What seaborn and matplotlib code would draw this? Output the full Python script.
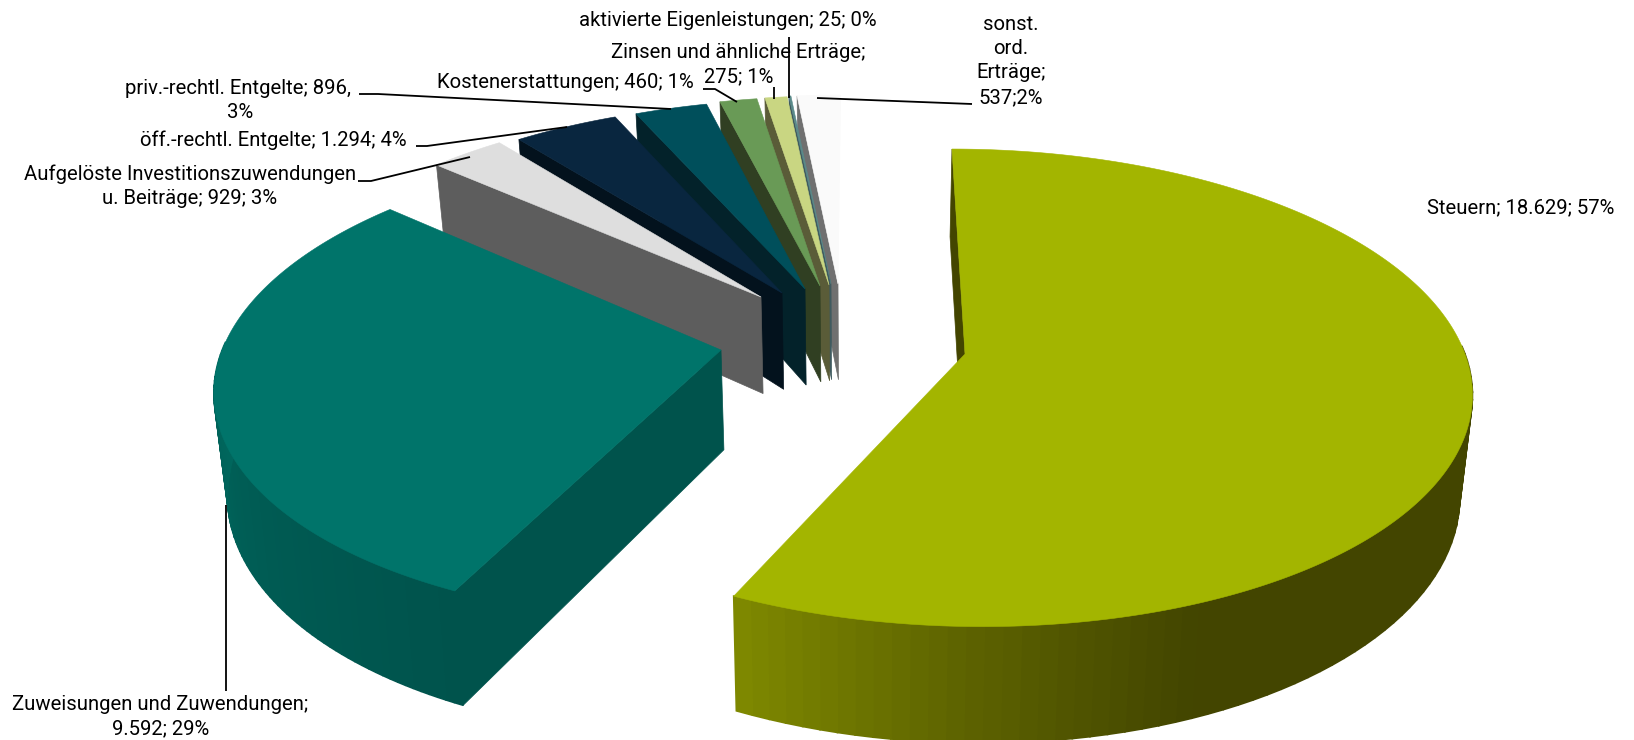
import numpy as np
import matplotlib
matplotlib.use("Agg")
import matplotlib.pyplot as plt
from matplotlib.patches import Polygon
import seaborn as sns

# Data
categories = ["Steuern", "Zuweisungen und Zuwendungen", "Aufgelöste Investitionszuwendungen u. Beiträge",
              "öff.-rechtl. Entgelte", "priv.-rechtl. Entgelte", "Kostenerstattungen",
              "Zinsen und ähnliche Erträge", "aktivierte Eigenleistungen", "sonst. ord. Erträge"]
values = [18629, 9592, 929, 1294, 896, 460, 275, 25, 537]

# Colours per slice
top_colors = ["#a3b500", "#00746a", "#dedede", "#09263f", "#004f5b", "#699a56", "#c9d682", "#5a8a8a", "#fafafa"]
side_colors = ["#434500", "#00534c", "#5d5d5d", "#03121d", "#03222a", "#303f22", "#5a5c38", "#3f5a5f", "#707070"]

# Where the tip of each exploded slice ends up (px)
tips = [(965, 354), (721, 350), (761, 297), (782, 293), (805, 289), (820, 286), (829, 285), (831, 284), (838, 284)]

# Perspective of the disc
cx, cy, A, B, k, D, t = 860, 354, 500, 234, 0.1416, 100, 0.021


def project(X, Y, z=0.0):
    p = 1 / (1 + k * Y)
    return cx + A * X * p * (1 - t * z), cy - B * Y * p + D * z * p


def tip_world(sx, sy):
    u = (cy - sy) / B
    Y = u / (1 - k * u)
    return (sx - cx) * (1 + k * Y) / A, Y


sns.set_theme(style="white")
plt.rcParams['font.family'] = ['Roboto', 'DejaVu Sans']

fig = plt.figure(figsize=(16.34, 7.40), dpi=100)
ax = fig.add_axes([0, 0, 1, 1])
ax.set_xlim(0, 1634)
ax.set_ylim(740, 0)
ax.axis("off")

shares = np.array(values) / sum(values)
ends = np.cumsum(shares) * 360
starts = ends - shares * 360

wall_ramps = {
    0: sns.blend_palette(["#434500", "#434500", "#434500", "#434500", "#5c6200", "#7e8800"], 64),
    1: sns.blend_palette(["#00534c", "#005c54", "#00685e"], 64),
}

# back slices first, the two big ones last
for i in range(len(values) - 1, -1, -1):
    X0, Y0 = tip_world(*tips[i])
    a0, a1 = np.radians(starts[i]), np.radians(ends[i])
    theta = np.linspace(a0, a1, max(int(shares[i] * 720), 12))
    Xs = X0 + np.sin(theta)
    Ys = Y0 + np.cos(theta)

    # wall along the leading edge of the slice
    e = (X0 + np.sin(a0), Y0 + np.cos(a0))
    pts = [project(X0, Y0), project(*e), project(*e, 1), project(X0, Y0, 1)]
    ax.add_patch(Polygon(pts, closed=True, fc=side_colors[i], ec=side_colors[i], lw=0.5))

    # outer wall, only the part facing the viewer
    if i in wall_ramps:
        ramp = wall_ramps[i]
        front = np.radians(np.linspace(max(starts[i], 88), min(ends[i], 272), 65))
        for j in range(len(front) - 1):
            sa, sb = front[j], front[j + 1]
            c = ramp[j]
            q = [project(X0 + np.sin(sa), Y0 + np.cos(sa)), project(X0 + np.sin(sb), Y0 + np.cos(sb)),
                 project(X0 + np.sin(sb), Y0 + np.cos(sb), 1), project(X0 + np.sin(sa), Y0 + np.cos(sa), 1)]
            ax.add_patch(Polygon(q, closed=True, fc=c, ec=c, lw=1.2))

    # top face
    top = [project(X0, Y0)] + [project(x, y) for x, y in zip(Xs, Ys)]
    ax.add_patch(Polygon(top, closed=True, fc=top_colors[i], ec=top_colors[i], lw=0.4))

# Leader lines
leaders = [
    [(359, 94), (378, 94), (671, 109)],
    [(416, 146), (427, 146), (567, 127)],
    [(358, 181), (371, 181), (470, 157)],
    [(703, 89), (715, 89), (737, 102)],
    [(774, 87), (774, 99)],
    [(789, 37), (789, 98)],
    [(817, 98), (972, 104)],
    [(226.5, 505), (226.5, 691)],
]
for line in leaders:
    ax.plot(*zip(*line), color="black", lw=1.3, solid_capstyle="butt")

# Labels
fs = 14.6
labels = [
    (1521, 208, "Steuern; 18.629; 57%"),
    (160, 705, "Zuweisungen und Zuwendungen;"),
    (161, 729, "9.592; 29%"),
    (190, 174, "Aufgelöste Investitionszuwendungen"),
    (190, 199, "u. Beiträge; 929; 3%"),
    (273, 140, "öff.-rechtl. Entgelte; 1.294; 4%"),
    (238, 88, "priv.-rechtl. Entgelte; 896,"),
    (240, 112, "3%"),
    (565, 83, "Kostenerstattungen; 460; 1%"),
    (738, 52, "Zinsen und ähnliche Erträge;"),
    (739, 77, "275; 1%"),
    (728, 21, "aktivierte Eigenleistungen; 25; 0%"),
    (1011, 25, "sonst."),
    (1011, 49, "ord."),
    (1011, 73, "Erträge;"),
    (1011, 98, "537;2%"),
]
for x, y, s in labels:
    ax.text(x, y, s, ha="center", va="center", fontsize=fs, color="black")

fig.savefig("out.png", dpi=100, facecolor="white")
